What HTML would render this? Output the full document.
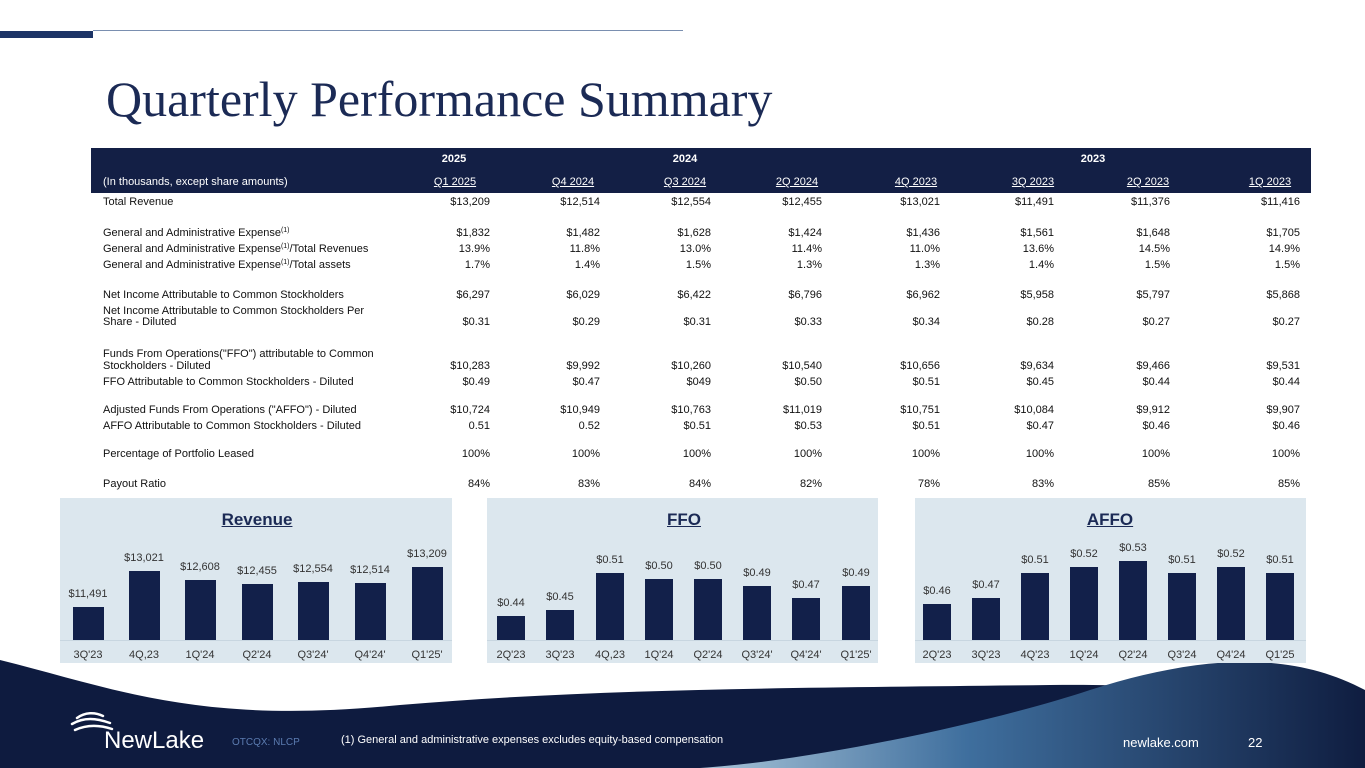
<!DOCTYPE html>
<html><head><meta charset="utf-8"><style>
*{margin:0;padding:0;box-sizing:border-box}
body{width:1365px;height:768px;position:relative;overflow:hidden;background:#fff;font-family:"Liberation Sans",Arial,sans-serif;color:#111}
.a{position:absolute;white-space:nowrap}
.t{font-size:11px;line-height:12px}
.r{text-align:right}
.c{text-align:center;transform:translateX(-50%)}
sup{font-size:7px;vertical-align:4px;line-height:0}
.h{color:#fff;font-size:11px}
.panel{position:absolute;top:498px;height:165px;background:#dce7ee}
.bar{position:absolute;background:#12204a}
.lbl{position:absolute;font-size:11px;color:#333;transform:translateX(-50%);white-space:nowrap}
.ax{position:absolute;font-size:11px;color:#333;top:649px;transform:translateX(-50%);white-space:nowrap}
.ttl{position:absolute;top:510px;font-size:17px;font-weight:bold;color:#1b2a55;text-decoration:underline;transform:translateX(-50%)}
</style></head><body>
<div class="a" style="left:0;top:31px;width:93px;height:7px;background:#1c3466"></div>
<div class="a" style="left:93px;top:30px;width:590px;height:1px;background:#7a8fb0"></div>
<div class="a" style="left:106px;top:70px;font-family:'Liberation Serif',serif;font-size:50px;color:#1b2a55">Quarterly Performance Summary</div>

<div class="a" style="left:91px;top:148px;width:1220px;height:45px;background:#131f45"></div>
<div class="a h c" style="left:454px;top:153px;font-weight:bold">2025</div>
<div class="a h c" style="left:685px;top:153px;font-weight:bold">2024</div>
<div class="a h c" style="left:1093px;top:153px;font-weight:bold">2023</div>
<div class="a h" style="left:103px;top:176px">(In thousands, except share amounts)</div>
<div class="a h c" style="left:455px;top:176px;text-decoration:underline">Q1 2025</div>
<div class="a h c" style="left:573px;top:176px;text-decoration:underline">Q4 2024</div>
<div class="a h c" style="left:685px;top:176px;text-decoration:underline">Q3 2024</div>
<div class="a h c" style="left:797px;top:176px;text-decoration:underline">2Q 2024</div>
<div class="a h c" style="left:916px;top:176px;text-decoration:underline">4Q 2023</div>
<div class="a h c" style="left:1033px;top:176px;text-decoration:underline">3Q 2023</div>
<div class="a h c" style="left:1148px;top:176px;text-decoration:underline">2Q 2023</div>
<div class="a h c" style="left:1270px;top:176px;text-decoration:underline">1Q 2023</div>

<div class="a t" style="left:103px;top:196px">Total Revenue</div>
<div class="a t" style="left:103px;top:227px">General and Administrative Expense<sup>(1)</sup></div>
<div class="a t" style="left:103px;top:243px">General and Administrative Expense<sup>(1)</sup>/Total Revenues</div>
<div class="a t" style="left:103px;top:259px">General and Administrative Expense<sup>(1)</sup>/Total assets</div>
<div class="a t" style="left:103px;top:289px">Net Income Attributable to Common Stockholders</div>
<div class="a t" style="left:103px;top:305px">Net Income Attributable to Common Stockholders Per</div>
<div class="a t" style="left:103px;top:316px">Share - Diluted</div>
<div class="a t" style="left:103px;top:348px">Funds From Operations("FFO") attributable to Common</div>
<div class="a t" style="left:103px;top:360px">Stockholders - Diluted</div>
<div class="a t" style="left:103px;top:376px">FFO Attributable to Common Stockholders - Diluted</div>
<div class="a t" style="left:103px;top:404px">Adjusted Funds From Operations ("AFFO") - Diluted</div>
<div class="a t" style="left:103px;top:420px">AFFO Attributable to Common Stockholders - Diluted</div>
<div class="a t" style="left:103px;top:448px">Percentage of Portfolio Leased</div>
<div class="a t" style="left:103px;top:478px">Payout Ratio</div>

<div id="nums"></div>
<script>
var rows=[[196,"$13,209 $12,514 $12,554 $12,455 $13,021 $11,491 $11,376 $11,416"],
[227,"$1,832 $1,482 $1,628 $1,424 $1,436 $1,561 $1,648 $1,705"],
[243,"13.9% 11.8% 13.0% 11.4% 11.0% 13.6% 14.5% 14.9%"],
[259,"1.7% 1.4% 1.5% 1.3% 1.3% 1.4% 1.5% 1.5%"],
[289,"$6,297 $6,029 $6,422 $6,796 $6,962 $5,958 $5,797 $5,868"],
[316,"$0.31 $0.29 $0.31 $0.33 $0.34 $0.28 $0.27 $0.27"],
[360,"$10,283 $9,992 $10,260 $10,540 $10,656 $9,634 $9,466 $9,531"],
[376,"$0.49 $0.47 $049 $0.50 $0.51 $0.45 $0.44 $0.44"],
[404,"$10,724 $10,949 $10,763 $11,019 $10,751 $10,084 $9,912 $9,907"],
[420,"0.51 0.52 $0.51 $0.53 $0.51 $0.47 $0.46 $0.46"],
[448,"100% 100% 100% 100% 100% 100% 100% 100%"],
[478,"84% 83% 84% 82% 78% 83% 85% 85%"]];
var rx=[490,600,711,822,940,1054,1170,1300],h="";
rows.forEach(function(r){r[1].split(" ").forEach(function(v,i){h+='<div class="a t r" style="right:'+(1365-rx[i])+'px;top:'+r[0]+'px">'+v+'</div>';});});
document.getElementById("nums").innerHTML=h;
</script>

<svg class="a" style="left:0;top:0" width="1365" height="768">
<defs><linearGradient id="g" x1="0" x2="1" y1="0" y2="0"><stop offset="0" stop-color="#a9c4d8"/><stop offset="0.4" stop-color="#3f6f9e"/><stop offset="1" stop-color="#0f1d40"/></linearGradient></defs>
<path d="M0 660 C120 690 200 725 400 705 C600 688 800 688 1050 685 C1200 683 1300 700 1365 700 L1365 768 L0 768Z" fill="#0e1b3f"/>
<path d="M700 768 C820 760 1000 720 1090 690 C1200 655 1290 650 1365 690 L1365 768Z" fill="url(#g)"/>
<g fill="none" stroke="#fff" stroke-width="2.5" stroke-linecap="round">
<path d="M77 718 C85 712 95 712 103 716"/><path d="M72 724 C84 717 96 718 110 723"/><path d="M75 730 C88 724 100 725 112 729"/></g>
</svg>
<div class="a" style="left:104px;top:727px;font-size:24px;color:#fff">NewLake</div>
<div class="a" style="left:232px;top:737px;font-size:10px;color:#5b7bb0">OTCQX: NLCP</div>
<div class="a" style="left:341px;top:734px;font-size:11px;color:#fff">(1) General and administrative expenses excludes equity-based compensation</div>
<div class="a" style="left:1123px;top:735px;font-size:13px;color:#fff">newlake.com</div>
<div class="a" style="left:1248px;top:735px;font-size:13px;color:#fff">22</div>

<div class="panel" style="left:60px;width:392px"></div>
<div class="panel" style="left:487px;width:391px"></div>
<div class="panel" style="left:915px;width:391px"></div>
<div id="ch"></div>
<script>
function chart(title,tx,cx,w,tops,labs,axs,x0,x1){
 var s='<div class="ttl" style="left:'+tx+'px">'+title+'</div>';
 s+='<div class="a" style="left:'+x0+'px;top:640px;width:'+(x1-x0)+'px;height:1px;background:#c8d6e0"></div>';
 cx.forEach(function(c,i){s+='<div class="bar" style="left:'+(c-w/2)+'px;top:'+tops[i]+'px;width:'+w+'px;height:'+(640-tops[i])+'px"></div>';
 s+='<div class="lbl" style="left:'+c+'px;top:'+(tops[i]-19)+'px">'+labs[i]+'</div>';
 s+='<div class="ax" style="left:'+c+'px">'+axs[i]+'</div>';});
 return s;}
var s=chart("Revenue",257,[88,144,200,257,313,370,427],31,[607,571,580,584,582,583,567],
"$11,491 $13,021 $12,608 $12,455 $12,554 $12,514 $13,209".split(" "),"3Q'23 4Q,23 1Q'24 Q2'24 Q3'24' Q4'24' Q1'25'".split(" "),60,452);
s+=chart("FFO",684,[511,560,610,659,708,757,806,856],28,[616,610,573,579,579,586,598,586],
"$0.44 $0.45 $0.51 $0.50 $0.50 $0.49 $0.47 $0.49".split(" "),"2Q'23 3Q'23 4Q,23 1Q'24 Q2'24 Q3'24' Q4'24' Q1'25'".split(" "),487,878);
s+=chart("AFFO",1110,[937,986,1035,1084,1133,1182,1231,1280],28,[604,598,573,567,561,573,567,573],
"$0.46 $0.47 $0.51 $0.52 $0.53 $0.51 $0.52 $0.51".split(" "),"2Q'23 3Q'23 4Q'23 1Q'24 Q2'24 Q3'24 Q4'24 Q1'25".split(" "),915,1306);
document.getElementById("ch").innerHTML=s;
</script>
</body></html>
